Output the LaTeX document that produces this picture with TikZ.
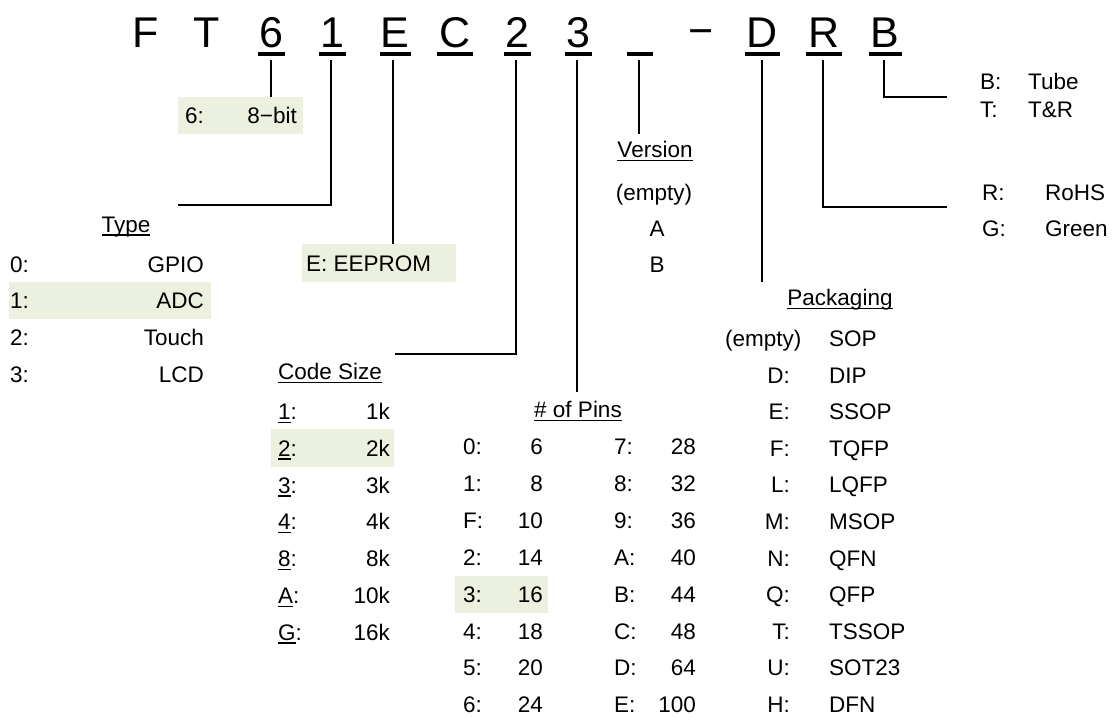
\documentclass[tikz,border=0pt]{standalone}
\usepackage{fontspec}
\setmainfont{Liberation Sans}
\definecolor{hl}{HTML}{EBF1DE}
\newcommand\ulx[1]{{\setbox0\hbox{#1}\rlap{\vrule height -2pt depth 3.5pt width \wd0}\box0}}
\tikzset{
  txt/.style={inner sep=0pt, font=\fontsize{22.5}{27}\selectfont},
  lab/.style={txt, anchor=base west},
  val/.style={txt, anchor=base east},
  mid/.style={txt, anchor=base},
  ttl/.style={inner sep=0pt, font=\fontsize{43}{50}\selectfont, anchor=base},
  hlbox/.style={fill=hl, draw=none, inner sep=0pt},
  conn/.style={line width=1.7pt},
  uline/.style={line width=3.6pt},
}
\begin{document}
\begin{tikzpicture}[x=1pt,y=-1pt]
\useasboundingbox (0,0) rectangle (1114,720);
% highlight boxes
\node[hlbox, minimum width=125pt, minimum height=37pt] (b6) at (240.5,115.5) {};
\node[hlbox, minimum width=154pt, minimum height=38pt] (bE) at (379,263) {};
\node[hlbox, minimum width=202pt, minimum height=37pt] (bT) at (110,300.5) {};
\node[hlbox, minimum width=123pt, minimum height=38pt] (bC) at (332.5,448) {};
\node[hlbox, minimum width=93pt, minimum height=37pt] (bP) at (501.5,594.5) {};
% title
\node[ttl] (tF) at (146,47) {F};
\node[ttl] (tT) at (207,47) {T};
\node[ttl] (t6) at (271,47) {6};
\node[ttl] (t1) at (332,47) {1};
\node[ttl] (tE) at (395,47) {E};
\node[ttl] (tC) at (455,47) {C};
\node[ttl] (t2) at (517,47) {2};
\node[ttl] (t3) at (578,47) {3};
\node[ttl] (tM) at (701,45) {−};
\node[ttl] (tD) at (762,47) {D};
\node[ttl] (tR) at (824,47) {R};
\node[ttl] (tB) at (885,47) {B};
% title underlines
\draw[uline] (258,54) -- (285,54);
\draw[uline] (319,54) -- (346,54);
\draw[uline] (380,54) -- (411,54);
\draw[uline] (437,54) -- (473,54);
\draw[uline] (504,54) -- (531,54);
\draw[uline] (565,54) -- (592,54);
\draw[uline] (627,54) -- (653,54);
\draw[uline] (745,54) -- (780,54);
\draw[uline] (806,54) -- (842,54);
\draw[uline] (869,54) -- (902,54);
% connector coordinates
\coordinate (s6) at (271,60);
\coordinate (s1) at (331,60);
\coordinate (sE) at (393,60);
\coordinate (s2) at (516,60);
\coordinate (s3) at (577,60);
\coordinate (sV) at (639,60);
\coordinate (sD) at (762,60);
\coordinate (sR) at (823,60);
\coordinate (sB) at (884,60);
\coordinate (e1) at (178,205);
\coordinate (e2) at (395,354);
\coordinate (e3) at (577,392);
\coordinate (eV) at (639,134);
\coordinate (eD) at (762,282);
\coordinate (eR) at (947,207);
\coordinate (eB) at (947,97);
\draw[conn] (s6) -- (s6 |- b6.north);
\draw[conn] (s1) |- (e1);
\draw[conn] (sE) -- (sE |- bE.north);
\draw[conn] (s2) |- (e2);
\draw[conn] (s3) -- (e3);
\draw[conn] (sV) -- (eV);
\draw[conn] (sD) -- (eD);
\draw[conn] (sR) |- (eR);
\draw[conn] (sB) |- (eB);
% 6 box
\node[lab] (l6) at (185,123.5) {6:};
\node[val] (v6) at (297,123.5) {8−bit};
% EEPROM
\node[lab] (lE) at (306,271) {E: EEPROM};
% Type
\node[mid] (hType) at (126,232) {\ulx{Type}};
\foreach \k/\a/\b in {0/0:/GPIO,1/1:/ADC,2/2:/Touch,3/3:/LCD}{
  \node[lab] (tyl\k) at (10,272+36.7*\k) {\a};
  \node[val] (tyv\k) at (204,272+36.7*\k) {\b};
}
% Code size
\node[lab] (hCode) at (278,379.5) {\ulx{Code Size}};
\foreach \k/\a/\b in {0/1/1k,1/2/2k,2/3/3k,3/4/4k,4/8/8k,5/A/10k,6/G/16k}{
  \node[lab] (csl\k) at (278,419.5+36.8*\k) {\ulx{\a}:};
  \node[val] (csv\k) at (390,419.5+36.8*\k) {\b};
}
% Pins
\node[mid] (hPins) at (578,417.5) {\ulx{\# of Pins}};
\foreach \k/\a/\b/\c/\d in {0/0/6/7/28,1/1/8/8/32,2/F/10/9/36,3/2/14/A/40,4/3/16/B/44,5/4/18/C/48,6/5/20/D/64,7/6/24/E/100}{
  \node[lab] (pal\k) at (463,454.5+36.9*\k) {\a:};
  \node[val] (pav\k) at (543,454.5+36.9*\k) {\b};
  \node[lab] (pbl\k) at (614,454.5+36.9*\k) {\c:};
  \node[val] (pbv\k) at (696,454.5+36.9*\k) {\d};
}
% Version
\node[mid] (hVer) at (655,157.5) {\ulx{Version}};
\node[mid] (ve0) at (654,200.5) {(empty)};
\node[mid] (ve1) at (657,236.5) {A};
\node[mid] (ve2) at (657,272.5) {B};
% Packaging
\node[mid] (hPack) at (840,305.5) {\ulx{Packaging}};
\node[lab] (pk0) at (725,346.5) {(empty)};
\node[lab] (pkv0) at (829,346.5) {SOP};
\foreach \k/\a/\b in {1/D/DIP,2/E/SSOP,3/F/TQFP,4/L/LQFP,5/M/MSOP,6/N/QFN,7/Q/QFP,8/T/TSSOP,9/U/SOT23,10/H/DFN}{
  \node[val] (pk\k) at (790,346.5+36.6*\k) {\a:};
  \node[lab] (pkv\k) at (829,346.5+36.6*\k) {\b};
}
% Right side
\node[lab] (rB) at (980,89.5) {B:};
\node[lab] (rBv) at (1028,89.5) {Tube};
\node[lab] (rT) at (980,117.5) {T:};
\node[lab] (rTv) at (1028,117.5) {T\&R};
\node[lab] (rR) at (982,200.5) {R:};
\node[lab] (rRv) at (1045,200.5) {RoHS};
\node[lab] (rG) at (982,236.5) {G:};
\node[lab] (rGv) at (1045,236.5) {Green};
\end{tikzpicture}
\end{document}
